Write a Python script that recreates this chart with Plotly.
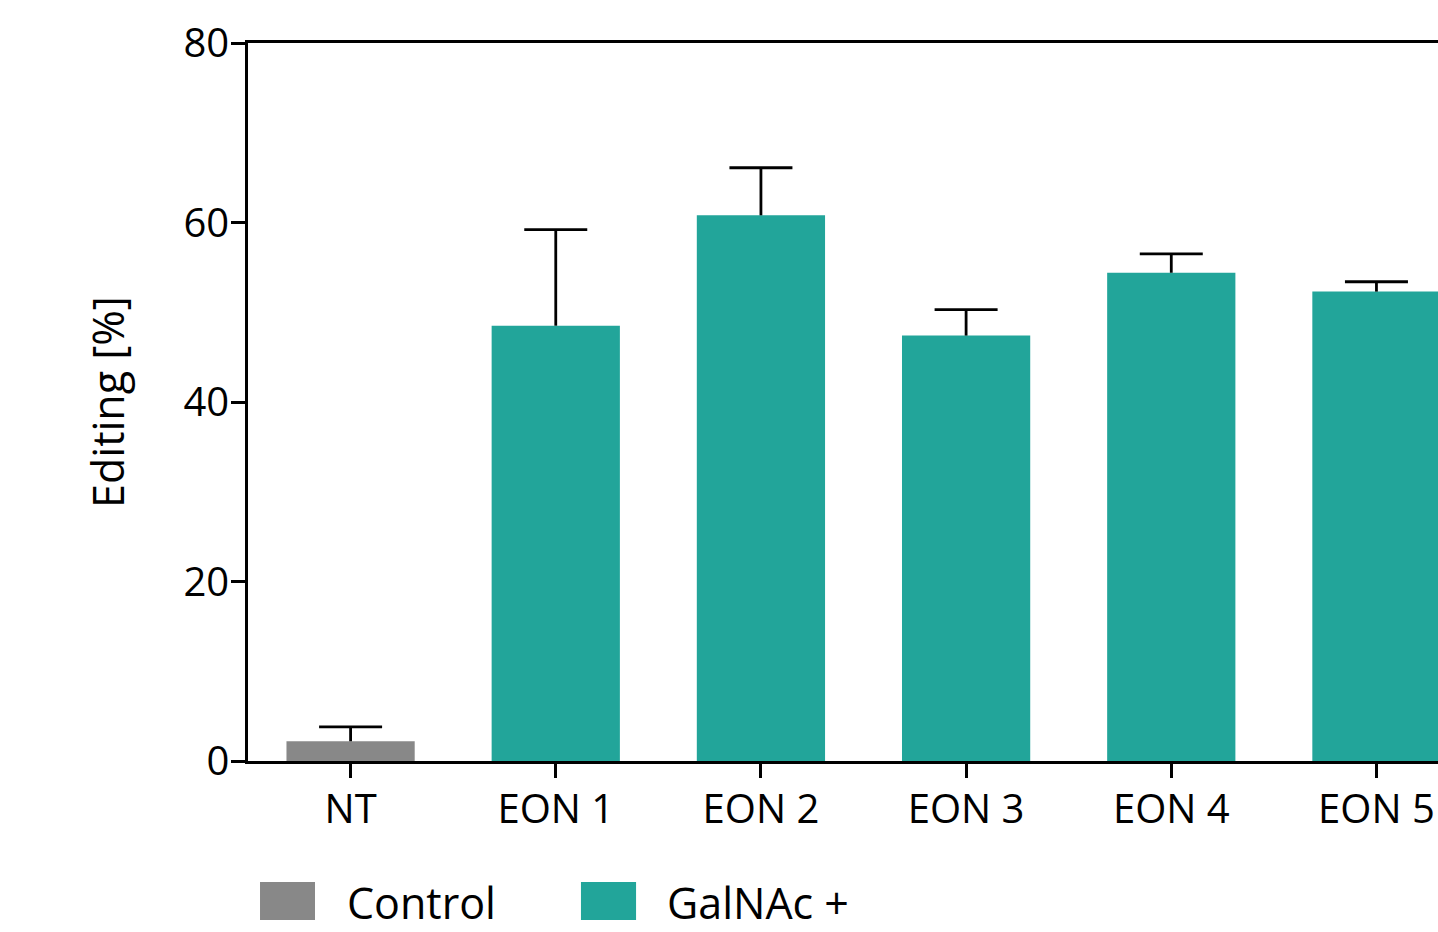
import plotly.graph_objects as go

categories = ["NT", "EON 1", "EON 2", "EON 3", "EON 4", "EON 5"]
control_cats = ["NT"]
control_vals = [2.2]
control_err = [1.6]
galnac_cats = ["EON 1", "EON 2", "EON 3", "EON 4", "EON 5"]
galnac_vals = [48.5, 60.8, 47.4, 54.4, 52.3]
galnac_err = [10.7, 5.3, 2.9, 2.1, 1.1]
y_ticks = [0, 20, 40, 60, 80]

GRAY = "#888888"
TEAL = "#22A59A"
FONT = "Open Sans"

fig = go.Figure()
for cats, vals, errs, name, col in [
    (control_cats, control_vals, control_err, "Control", GRAY),
    (galnac_cats, galnac_vals, galnac_err, "GalNAc +", TEAL),
]:
    fig.add_trace(go.Bar(
        x=cats, y=vals, name=name,
        marker=dict(color=col, line=dict(width=0)), width=0.625,
        error_y=dict(type="data", array=errs, symmetric=False,
                     arrayminus=[0] * len(errs),
                     color="black", thickness=2.8, width=0),
        showlegend=False,
    ))
    # error bar caps (top only)
    fig.add_trace(go.Scatter(
        x=cats, y=[v + e for v, e in zip(vals, errs)], mode="markers",
        marker=dict(symbol="line-ew", size=45, color="black",
                    line=dict(width=2.8, color="black")),
        showlegend=False, hoverinfo="skip",
    ))

# legend drawn as decoration below the plot
legend_items = [("Control", GRAY, 0.0101, 0.0563, 0.0815),
                ("GalNAc +", TEAL, 0.2798, 0.3261, 0.3505)]
for label, col, x0, x1, tx in legend_items:
    fig.add_shape(type="rect", xref="paper", yref="paper", x0=x0, x1=x1,
                  y0=-0.2214, y1=-0.1685, fillcolor=col, line=dict(width=0))
    fig.add_annotation(text=label, xref="paper", yref="paper", x=tx, y=-0.1964,
                       xanchor="left", yanchor="middle", showarrow=False,
                       font=dict(family=FONT, size=43, color="black"))

fig.update_layout(
    width=1438, height=932,
    margin=dict(l=248, r=0, t=43, b=171),
    paper_bgcolor="white", plot_bgcolor="white",
    font=dict(family=FONT, color="black", size=40),
    bargap=0.375,
)
fig.update_xaxes(
    categoryorder="array", categoryarray=categories,
    range=[-0.5, 5.3], showgrid=False, zeroline=False,
    showline=True, linecolor="black", linewidth=2.5, mirror=True,
    ticks="outside", ticklen=14, tickwidth=2.5, tickcolor="black",
    tickfont=dict(family=FONT, size=40), ticklabelstandoff=-3,
)
fig.update_yaxes(
    range=[0, 80], tickvals=y_ticks, showgrid=False, zeroline=False,
    showline=True, linecolor="black", linewidth=2.5,
    ticks="outside", ticklen=14, tickwidth=2.5, tickcolor="black",
    tickfont=dict(family=FONT, size=40), ticklabelstandoff=-6,
    title=dict(text="Editing [%]", font=dict(family=FONT, size=43), standoff=46),
)

fig.write_html("out.html", config={"displayModeBar": False},
               post_script="document.body.style.margin='0';")
